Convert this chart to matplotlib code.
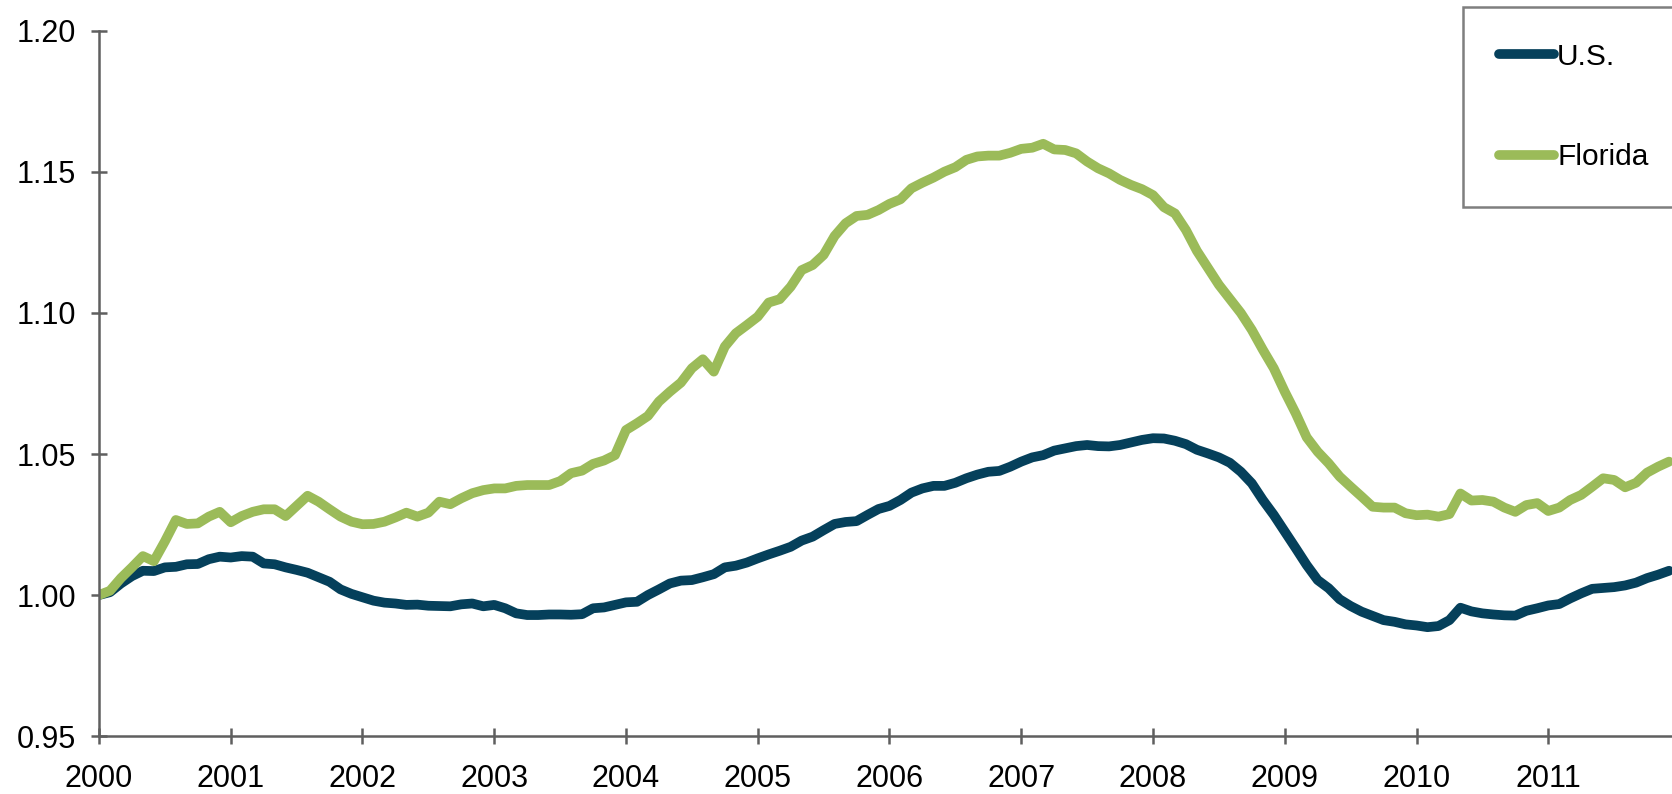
import numpy as np
import matplotlib
matplotlib.use("Agg")
from matplotlib import pyplot as plt

plt.rcParams['font.family'] = ['Liberation Sans', 'DejaVu Sans']

# monthly index values, Jan 2000 .. Dec 2011 (Jan 2000 = 1.00)
years = list(range(2000, 2012))

us = [
    1.000, 1.001, 1.0041, 1.0067, 1.0086, 1.0085, 1.0098, 1.0100, 1.0109, 1.0110, 1.0127, 1.0136,
    1.0133, 1.0138, 1.0136, 1.0112, 1.0109, 1.0098, 1.0089, 1.0079, 1.0063, 1.0047, 1.0020, 1.0004,
    0.9992, 0.9980, 0.9973, 0.9970, 0.9965, 0.9966, 0.9962, 0.9961, 0.9960, 0.9967, 0.9970, 0.9960,
    0.9965, 0.9953, 0.9935, 0.9929, 0.9929, 0.9931, 0.9931, 0.9930, 0.9932, 0.9953, 0.9956, 0.9965,
    0.9974, 0.9976, 1.0000, 1.0020, 1.0041, 1.0051, 1.0053, 1.0063, 1.0074, 1.0098, 1.0104, 1.0115,
    1.0130, 1.0144, 1.0157, 1.0171, 1.0193, 1.0207, 1.0230, 1.0252, 1.0259, 1.0262, 1.0284, 1.0305,
    1.0316, 1.0337, 1.0363, 1.0378, 1.0387, 1.0387, 1.0398, 1.0414, 1.0427, 1.0437, 1.0440, 1.0455,
    1.0473, 1.0488, 1.0496, 1.0512, 1.0520, 1.0528, 1.0532, 1.0528, 1.0527, 1.0532, 1.0541, 1.0550,
    1.0556, 1.0555, 1.0547, 1.0535, 1.0515, 1.0502, 1.0488, 1.0469, 1.0437, 1.0396, 1.0337, 1.0284,
    1.0225, 1.0166, 1.0106, 1.0053, 1.0024, 0.9985, 0.9961, 0.9941, 0.9926, 0.9911, 0.9905, 0.9896,
    0.9892, 0.9886, 0.9890, 0.9911, 0.9955, 0.9942, 0.9935, 0.9931, 0.9928, 0.9927, 0.9944, 0.9953,
    0.9963, 0.9968, 0.9988, 1.0006, 1.0022, 1.0025, 1.0028, 1.0034, 1.0044, 1.0060, 1.0072, 1.0086,
]

florida = [
    1.000, 1.0015, 1.0060, 1.0098, 1.0138, 1.0120, 1.0190, 1.0266, 1.0252, 1.0254, 1.0278, 1.0295,
    1.0258, 1.0280, 1.0295, 1.0304, 1.0304, 1.0280, 1.0316, 1.0352, 1.0331, 1.0304, 1.0278, 1.0260,
    1.0251, 1.0252, 1.0260, 1.0275, 1.0292, 1.0278, 1.0292, 1.0331, 1.0322, 1.0343, 1.0361, 1.0372,
    1.0378, 1.0378, 1.0387, 1.0390, 1.0390, 1.0390, 1.0404, 1.0432, 1.0441, 1.0465, 1.0477, 1.0496,
    1.0585, 1.0609, 1.0635, 1.0686, 1.0721, 1.0753, 1.0804, 1.0836, 1.0792, 1.0881, 1.0928, 1.0957,
    1.0987, 1.1037, 1.1049, 1.1093, 1.1152, 1.1170, 1.1206, 1.1273, 1.1318, 1.1344, 1.1348, 1.1365,
    1.1387, 1.1403, 1.1442, 1.1462, 1.1480, 1.1501, 1.1517, 1.1543, 1.1555, 1.1558, 1.1558, 1.1568,
    1.1582, 1.1586, 1.1600, 1.1580, 1.1578, 1.1566, 1.1537, 1.1513, 1.1495, 1.1472, 1.1454, 1.1439,
    1.1418, 1.1375, 1.1353, 1.1294, 1.1220, 1.1160, 1.1100, 1.1050, 1.1000, 1.0940, 1.0870, 1.0804,
    1.0721, 1.0644, 1.0559, 1.0508, 1.0467, 1.0420, 1.0384, 1.0349, 1.0313, 1.0310, 1.0310, 1.0290,
    1.0283, 1.0285, 1.0278, 1.0287, 1.0360, 1.0335, 1.0337, 1.0331, 1.0310, 1.0295, 1.0319, 1.0326,
    1.0298, 1.0310, 1.0337, 1.0355, 1.0384, 1.0414, 1.0408, 1.0382, 1.0398, 1.0434, 1.0455, 1.0473,
]

months = np.arange(len(us))

fig = plt.figure(figsize=(16.72, 7.94), dpi=100)
ax = fig.add_axes([0.0592, 0.073, 0.9408, 0.888])

ax.plot(months, us, color='#05405b', lw=7, solid_capstyle='round', solid_joinstyle='round', label='U.S.')
ax.plot(months, florida, color='#9bbb59', lw=7, solid_capstyle='round', solid_joinstyle='round', label='Florida')

ax.set_xlim(0, 143.27)
ax.set_ylim(0.95, 1.20)
ax.set_xticks([12 * i for i in range(len(years))])
ax.set_xticklabels([str(y) for y in years])
ax.set_yticks(np.arange(0.95, 1.2001, 0.05))
ax.set_yticklabels(['%.2f' % v for v in np.arange(0.95, 1.2001, 0.05)])

for s in ['top', 'right']:
    ax.spines[s].set_visible(False)
for s in ['left', 'bottom']:
    ax.spines[s].set_color('#5f5f5f')
    ax.spines[s].set_linewidth(1.8)

ax.tick_params(axis='both', direction='inout', length=12, width=1.8, color='#5f5f5f',
               labelsize=22, labelcolor='black')
ax.tick_params(axis='y', pad=10.5)
ax.tick_params(axis='x', pad=14)

leg = fig.legend(loc='upper left', bbox_to_anchor=(1463 / 1672, 1 - 7 / 794),
                 fontsize=21.5, frameon=True, fancybox=False, borderpad=1.2,
                 labelspacing=2.42, handlelength=1.85, handletextpad=0.1,
                 borderaxespad=0)
leg.get_frame().set_edgecolor('#5f5f5f')
leg.get_frame().set_linewidth(1.8)
for line in leg.get_lines():
    line.set_linewidth(7)

fig.savefig('out.png', dpi=100)
